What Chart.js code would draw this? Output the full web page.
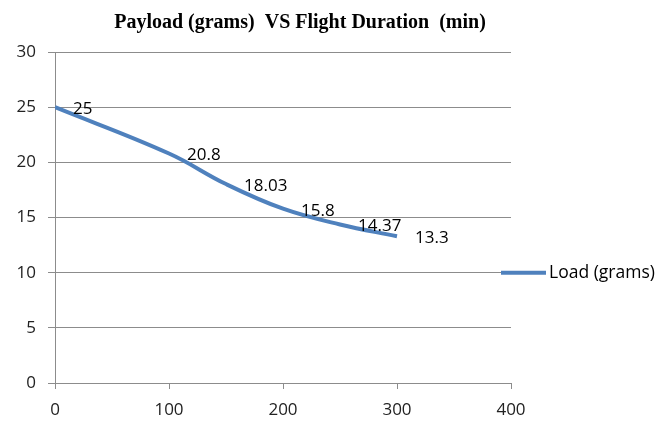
<!DOCTYPE html>
<html>
<head>
<meta charset="utf-8">
<script src="https://cdn.jsdelivr.net/npm/chart.js@4.4.1/dist/chart.umd.min.js"></script>
<style>
  html, body { margin: 0; padding: 0; background: #fff; }
  #wrap { width: 662px; height: 421px; }
</style>
</head>
<body>
<div id="wrap"><canvas id="payloadChart"></canvas></div>
<script>
// data
const durations = [0, 100, 150, 200, 250, 300];
const loads = [25, 20.8, 18.03, 15.8, 14.37, 13.3];
const loadLabels = ['25', '20.8', '18.03', '15.8', '14.37', '13.3'];
const xTicks = [0, 100, 200, 300, 400];
const yTicks = [0, 5, 10, 15, 20, 25, 30];

const lineBlue = '#4F81BD';
const gridGray = '#8c8c8c';
const tickFont = { family: 'Open Sans', size: 17 };

// title, value labels and legend are drawn by hand, Excel style
const excelBits = {
  id: 'excelBits',
  afterDatasetsDraw(chart) {
    const ctx = chart.ctx;
    const meta = chart.getDatasetMeta(0);
    ctx.save();
    ctx.fillStyle = '#000';
    ctx.font = '17px "Open Sans"';
    ctx.textAlign = 'left';
    ctx.textBaseline = 'middle';
    meta.data.forEach((pt, i) => {
      ctx.fillText(loadLabels[i], pt.x + 18, pt.y + 2);
    });

    // title
    ctx.font = 'bold 20px "Liberation Serif"';
    ctx.textAlign = 'center';
    ctx.fillText('Payload (grams)  VS Flight Duration  (min)', 300, 23);

    // legend
    const ly = chart.scales.y.getPixelForValue(10);
    ctx.strokeStyle = lineBlue;
    ctx.lineWidth = 4;
    ctx.beginPath();
    ctx.moveTo(501, ly);
    ctx.lineTo(546, ly);
    ctx.stroke();
    ctx.font = '17.5px "Open Sans"';
    ctx.textAlign = 'left';
    ctx.fillText(chart.data.datasets[0].label, 549, ly);
    ctx.restore();
  }
};

new Chart(document.getElementById('payloadChart'), {
  type: 'line',
  data: {
    datasets: [{
      label: 'Load (grams)',
      data: durations.map((d, i) => ({ x: d, y: loads[i] })),
      borderColor: lineBlue,
      borderWidth: 4,
      tension: 0.4,
      pointRadius: 0,
      fill: false
    }]
  },
  options: {
    responsive: true,
    maintainAspectRatio: false,
    animation: false,
    layout: { padding: { top: 52, right: 151, left: 0, bottom: 0 } },
    plugins: {
      legend: { display: false },
      title: { display: false },
      tooltip: { enabled: false }
    },
    scales: {
      x: {
        type: 'linear',
        min: 0,
        max: 400,
        afterBuildTicks: (s) => { s.ticks = xTicks.map(v => ({ value: v })); },
        afterFit: (s) => { s.height = 38; },
        grid: { drawOnChartArea: false, drawTicks: true, tickLength: 6, color: gridGray },
        border: { color: gridGray, width: 1 },
        ticks: { color: '#222', font: tickFont, padding: 11, maxRotation: 0 }
      },
      y: {
        min: 0,
        max: 30,
        afterBuildTicks: (s) => { s.ticks = yTicks.map(v => ({ value: v })); },
        afterFit: (s) => { s.width = 55; },
        grid: { color: gridGray, drawTicks: true, tickLength: 7 },
        border: { color: gridGray, width: 1 },
        ticks: { color: '#222', font: tickFont, padding: 12 }
      }
    }
  },
  plugins: [excelBits]
});
</script>
</body>
</html>
